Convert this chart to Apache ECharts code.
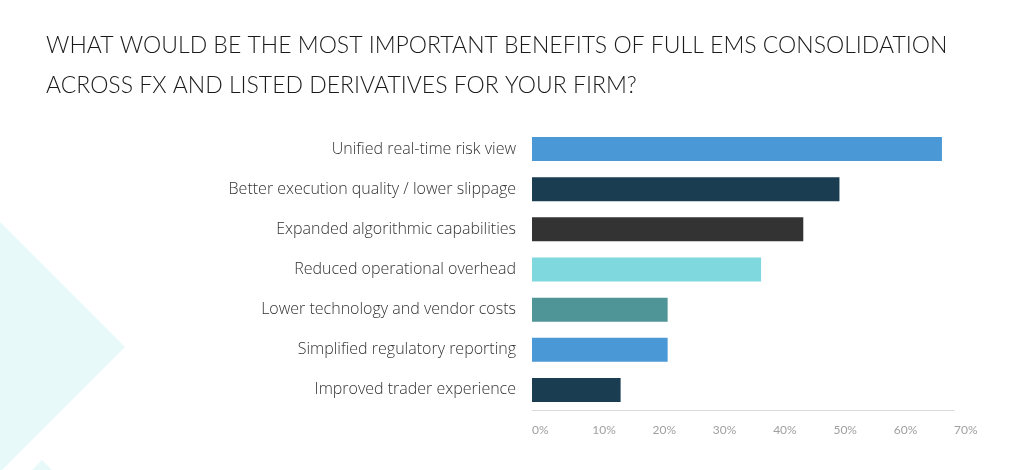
<!DOCTYPE html>
<html>
<head>
<meta charset="utf-8">
<script src="https://cdn.jsdelivr.net/npm/echarts@6/dist/echarts.min.js"></script>
<style>
  html, body { margin: 0; padding: 0; background: #fff; }
  #chart { width: 1024px; height: 470px; }
</style>
</head>
<body>
<div id="chart"></div>
<script>
// data
var categories = [
	'Unified real-time risk view',
	'Better execution quality / lower slippage',
	'Expanded algorithmic capabilities',
	'Reduced operational overhead',
	'Lower technology and vendor costs',
	'Simplified regulatory reporting',
	'Improved trader experience'
];
var values = [68, 51, 45, 38, 22.5, 22.5, 14.7];
var barColors = ['#4a98d6', '#1a3d52', '#333333', '#7fd8de', '#4f9597', '#4a98d6', '#1a3d52'];
var tickValues = [0, 10, 20, 30, 40, 50, 60, 70];

var chart = echarts.init(document.getElementById('chart'));

var option = {
	animation: false,
	graphic: [
		{ type: 'polygon', z: -10, shape: { points: [[0, 222], [125, 347], [0, 472]] }, style: { fill: '#e8f9fa' } },
		{ type: 'polygon', z: -10, shape: { points: [[42, 460], [52, 470], [32, 470]] }, style: { fill: '#e8f9fa' } },
		{
			type: 'text', left: 46, top: 26,
			style: {
				text: 'WHAT WOULD BE THE MOST IMPORTANT BENEFITS OF FULL EMS CONSOLIDATION\nACROSS FX AND LISTED DERIVATIVES FOR YOUR FIRM?',
				font: '300 23px Lato, "Open Sans", sans-serif',
				fill: '#1a1a1a',
				lineHeight: 40
			}
		}
	],
	grid: { left: 532, right: 70, top: 129, bottom: 60 },
	xAxis: {
		type: 'value', min: 0, max: 70, interval: 10,
		axisLine: { show: true, lineStyle: { color: '#d9d9d9' } },
		axisTick: { show: false },
		splitLine: { show: false },
		axisLabel: {
			color: '#a0a0a0', fontSize: 12, fontFamily: 'Lato, sans-serif', margin: 14, align: 'left',
			formatter: function(v) { return tickValues.indexOf(v) >= 0 ? v + '%' : ''; }
		}
	},
	yAxis: {
		type: 'category', inverse: true, data: categories,
		axisLine: { show: false }, axisTick: { show: false },
		axisLabel: { color: '#333', fontSize: 16, fontFamily: '"Open Sans", sans-serif', fontWeight: 300, margin: 16 }
	},
	series: [{
		type: 'bar',
		barWidth: 24,
		data: values.map(function(v, i) {
			return { value: v, itemStyle: { color: barColors[i] } };
		})
	}]
};

chart.setOption(option);
</script>
</body>
</html>
